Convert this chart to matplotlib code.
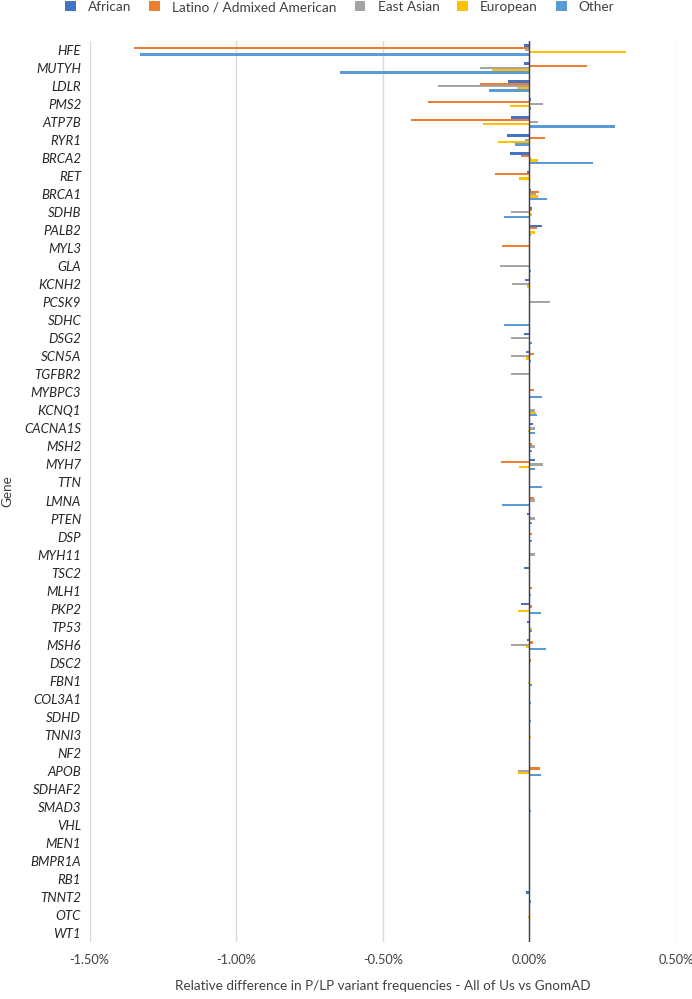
import matplotlib
matplotlib.use("Agg")
import matplotlib.pyplot as plt
import numpy as np
from matplotlib.ticker import FuncFormatter

genes = ["HFE", "MUTYH", "LDLR", "PMS2", "ATP7B", "RYR1", "BRCA2", "RET", "BRCA1", "SDHB",
         "PALB2", "MYL3", "GLA", "KCNH2", "PCSK9", "SDHC", "DSG2", "SCN5A", "TGFBR2", "MYBPC3",
         "KCNQ1", "CACNA1S", "MSH2", "MYH7", "TTN", "LMNA", "PTEN", "DSP", "MYH11", "TSC2",
         "MLH1", "PKP2", "TP53", "MSH6", "DSC2", "FBN1", "COL3A1", "SDHD", "TNNI3", "NF2",
         "APOB", "SDHAF2", "SMAD3", "VHL", "MEN1", "BMPR1A", "RB1", "TNNT2", "OTC", "WT1"]

# values in percent
african = [-0.020, -0.020, -0.073, 0.004, -0.063, -0.077, -0.067, -0.009, 0.004, 0.009,
           0.044, 0.000, 0.000, -0.015, 0.000, 0.000, -0.020, -0.0125, 0.000, 0.000,
           0.000, 0.014, 0.000, 0.018, 0.000, 0.000, -0.009, 0.000, 0.000, -0.020,
           0.000, -0.027, -0.009, -0.009, 0.000, 0.000, 0.000, 0.000, 0.000, 0.000,
           0.000, 0.002, 0.000, 0.000, 0.000, 0.000, 0.000, -0.011, 0.000, 0.000]
latino = [-1.348, 0.198, -0.169, -0.345, -0.404, 0.053, -0.029, -0.116, 0.032, 0.009,
          0.026, -0.092, 0.000, 0.000, 0.002, 0.000, 0.002, 0.017, 0.000, 0.017,
          0.003, 0.000, 0.010, -0.098, 0.000, 0.017, 0.000, 0.010, 0.000, 0.000,
          0.010, 0.010, 0.000, 0.014, 0.007, 0.002, 0.000, 0.002, 0.002, 0.002,
          0.0375, 0.000, 0.000, 0.003, 0.000, 0.000, 0.000, 0.000, 0.002, 0.000]
east_asian = [-0.014, -0.169, -0.311, 0.047, 0.029, -0.016, 0.004, 0.000, 0.023, -0.063,
              0.002, 0.000, -0.100, -0.060, 0.072, 0.000, -0.0625, -0.0625, -0.0625, 0.000,
              0.020, 0.020, 0.020, 0.048, 0.000, 0.020, 0.020, 0.000, 0.020, 0.000,
              0.000, 0.000, 0.000, -0.0625, 0.000, 0.000, 0.000, 0.000, 0.000, 0.000,
              -0.039, 0.000, 0.000, 0.000, 0.000, 0.000, 0.000, 0.000, 0.000, 0.000]
european = [0.331, -0.128, -0.042, -0.067, -0.159, -0.106, 0.029, -0.034, 0.029, 0.009,
            0.019, 0.000, 0.002, -0.009, 0.002, 0.002, 0.000, -0.011, 0.002, 0.000,
            0.024, -0.006, 0.000, -0.035, 0.000, 0.000, 0.002, 0.002, 0.002, 0.000,
            0.000, -0.039, 0.009, -0.0125, 0.003, -0.006, 0.003, 0.000, 0.007, 0.003,
            -0.039, 0.003, 0.000, 0.000, 0.002, 0.002, 0.002, 0.002, -0.006, 0.000]
other = [-1.327, -0.645, -0.139, 0.004, 0.292, -0.050, 0.216, 0.000, 0.059, -0.086,
         0.004, 0.000, 0.006, 0.003, 0.003, -0.086, 0.009, 0.007, 0.000, 0.043,
         0.027, 0.018, 0.009, 0.020, 0.043, -0.093, 0.009, 0.009, 0.000, 0.000,
         0.007, 0.040, 0.009, 0.055, 0.000, 0.009, 0.007, 0.006, 0.000, 0.000,
         0.041, 0.000, 0.006, 0.000, 0.000, 0.000, 0.000, 0.004, 0.003, 0.000]

series_names = ["African", "Latino / Admixed American", "East Asian", "European", "Other"]
series_vals = [african, latino, east_asian, european, other]
colors = ["#4472C4", "#ED7D31", "#A5A5A5", "#FFC000", "#5B9BD5"]
xticks = [-1.5, -1.0, -0.5, 0.0, 0.5]

plt.rcParams["font.family"] = ["Lato", "DejaVu Sans"]

fig = plt.figure(figsize=(6.92, 9.99), dpi=100)
ax = fig.add_axes([89.5 / 692, 1 - 942 / 999, (676 - 89.5) / 692, (942 - 41) / 999])

n = len(genes)
y = np.arange(n)
bh = 0.125
for k, (name, vals, c) in enumerate(zip(series_names, series_vals, colors)):
    ax.barh(y + (k - 2) * bh, vals, height=bh, color=c, label=name, zorder=3)

ax.set_xlim(-1.5, 0.5)
ax.set_ylim(n - 0.5, -0.5)
ax.set_xticks(xticks)
ax.xaxis.set_major_formatter(FuncFormatter(lambda v, p: f"{v:.2f}%"))
ax.set_yticks(y)
ax.set_yticklabels(genes, fontstyle="italic", fontsize=9.5, color="#262626")
ax.tick_params(axis="both", length=0)
ax.tick_params(axis="x", labelsize=9.2, labelcolor="#404040", pad=9)
ax.tick_params(axis="y", pad=6)
ax.grid(axis="x", color="#D9D9D9", linewidth=1.0, zorder=0)
ax.grid(axis="y", visible=False)
for s in ["top", "right", "bottom", "left"]:
    ax.spines[s].set_visible(False)
ax.axvline(0, color="#404040", linewidth=1.0, zorder=4)

ax.set_xlabel("Relative difference in P/LP variant frequencies - All of Us vs GnomAD",
              fontsize=9.7, color="#404040", labelpad=10)
ax.set_ylabel("Gene", fontsize=9.7, color="#404040")
ax.yaxis.set_label_coords(-76 / 586.5, 0.5)

handles, labels = ax.get_legend_handles_labels()
fig.legend(handles, labels, loc="center", bbox_to_anchor=(0.491, 1 - 7 / 999), ncol=5,
           frameon=False, fontsize=9.8, handlelength=0.8, handleheight=0.8,
           columnspacing=1.3, handletextpad=0.9, labelcolor="#404040")

fig.savefig("out.png", dpi=100)
